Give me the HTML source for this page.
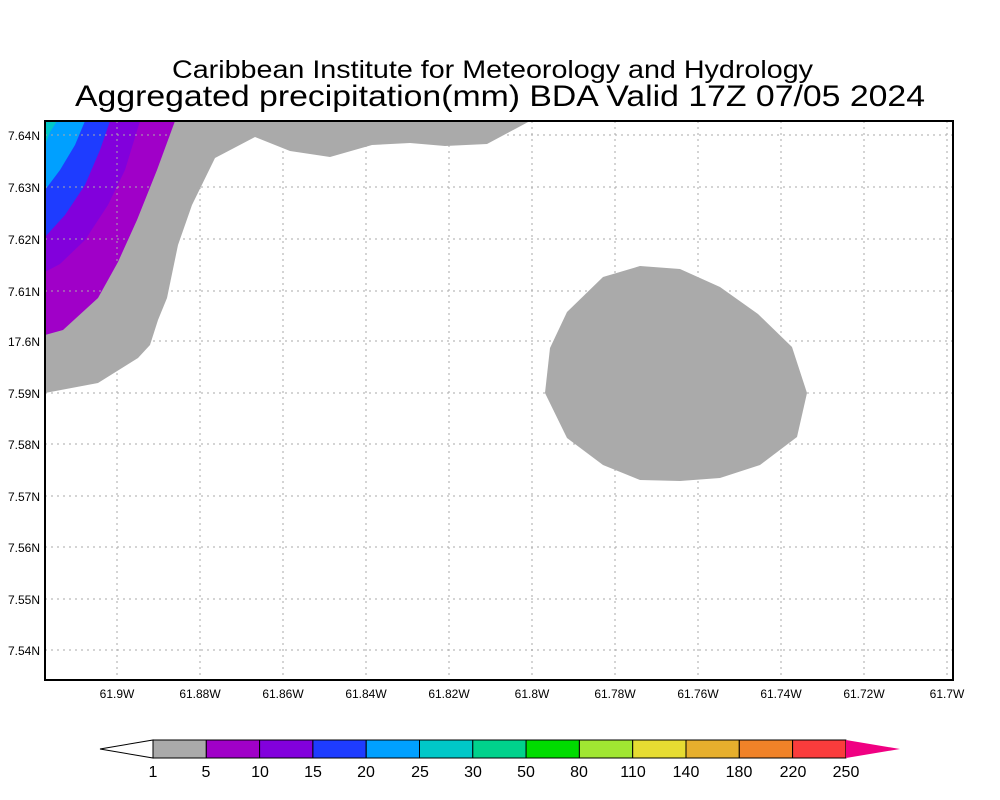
<!DOCTYPE html>
<html><head><meta charset="utf-8"><style>body{margin:0;background:#fff}svg{display:block}text{font-family:"Liberation Sans",sans-serif}</style></head><body>
<svg width="1000" height="800" viewBox="0 0 1000 800">
<rect width="1000" height="800" fill="#fff"/>
<text x="172" y="78" font-size="25" textLength="641" lengthAdjust="spacingAndGlyphs">Caribbean Institute for Meteorology and Hydrology</text>
<text x="75" y="106" font-size="30" textLength="850" lengthAdjust="spacingAndGlyphs">Aggregated precipitation(mm) BDA Valid 17Z 07/05 2024</text>
<clipPath id="c"><rect x="45" y="121" width="908" height="559"/></clipPath>
<g clip-path="url(#c)">
<polygon fill="#aaaaaa" points="45,393 98,383 138,358 150,345 158,320 167,298 178,245 192,205 215,158 255,137 290,151 330,157 372,145 410,143 445,146 487,144 517,128 530,121 45,121"/>
<polygon fill="#a000c8" points="45,335 63,330 98,298 118,262 137,220 157,170 175,121 45,121"/>
<polygon fill="#8200dc" points="45,272 60,264 85,240 108,205 125,170 140,121 45,121"/>
<polygon fill="#1e3cff" points="45,237 65,215 85,185 100,150 110,121 45,121"/>
<polygon fill="#00a0ff" points="45,190 60,170 75,145 85,121 45,121"/>
<polygon fill="#00c8c8" points="45,145 50,132 57,121 45,121"/>
<polygon fill="#aaaaaa" points="545,393 550,348 567,312 603,277 640,266 680,269 720,287 758,314 792,347 807,393 797,437 760,465 720,478 680,481 640,480 603,465 567,438"/>
</g>
<g stroke="#aaa" stroke-width="1" stroke-dasharray="2,4">
<line x1="117" y1="121" x2="117" y2="680"/><line x1="200" y1="121" x2="200" y2="680"/><line x1="283" y1="121" x2="283" y2="680"/><line x1="366" y1="121" x2="366" y2="680"/><line x1="449" y1="121" x2="449" y2="680"/><line x1="532" y1="121" x2="532" y2="680"/><line x1="615" y1="121" x2="615" y2="680"/><line x1="698" y1="121" x2="698" y2="680"/><line x1="781" y1="121" x2="781" y2="680"/><line x1="864" y1="121" x2="864" y2="680"/><line x1="947" y1="121" x2="947" y2="680"/>
<line x1="45" y1="135" x2="953" y2="135"/><line x1="45" y1="187" x2="953" y2="187"/><line x1="45" y1="239" x2="953" y2="239"/><line x1="45" y1="291" x2="953" y2="291"/><line x1="45" y1="341" x2="953" y2="341"/><line x1="45" y1="393" x2="953" y2="393"/><line x1="45" y1="444" x2="953" y2="444"/><line x1="45" y1="496" x2="953" y2="496"/><line x1="45" y1="547" x2="953" y2="547"/><line x1="45" y1="599" x2="953" y2="599"/><line x1="45" y1="650" x2="953" y2="650"/>
</g>
<rect x="45" y="121" width="908" height="559" fill="none" stroke="#000" stroke-width="2"/>
<g font-size="12" text-anchor="end">
<text x="40" y="140">7.64N</text><text x="40" y="192">7.63N</text><text x="40" y="244">7.62N</text><text x="40" y="296">7.61N</text><text x="40" y="346">17.6N</text><text x="40" y="398">7.59N</text><text x="40" y="449">7.58N</text><text x="40" y="501">7.57N</text><text x="40" y="552">7.56N</text><text x="40" y="604">7.55N</text><text x="40" y="655">7.54N</text>
</g>
<g font-size="12" text-anchor="middle">
<text x="117" y="698">61.9W</text><text x="200" y="698">61.88W</text><text x="283" y="698">61.86W</text><text x="366" y="698">61.84W</text><text x="449" y="698">61.82W</text><text x="532" y="698">61.8W</text><text x="615" y="698">61.78W</text><text x="698" y="698">61.76W</text><text x="781" y="698">61.74W</text><text x="864" y="698">61.72W</text><text x="947" y="698">61.7W</text>
</g>
<g stroke="#000" stroke-width="1">
<polygon points="100,749 153,740 153,758" fill="#fff"/>
<rect x="153" y="740" width="53.3" height="18" fill="#aaaaaa"/>
<rect x="206.3" y="740" width="53.3" height="18" fill="#a000c8"/>
<rect x="259.6" y="740" width="53.3" height="18" fill="#8200dc"/>
<rect x="312.9" y="740" width="53.3" height="18" fill="#1e3cff"/>
<rect x="366.2" y="740" width="53.3" height="18" fill="#00a0ff"/>
<rect x="419.5" y="740" width="53.3" height="18" fill="#00c8c8"/>
<rect x="472.8" y="740" width="53.3" height="18" fill="#00d28c"/>
<rect x="526.1" y="740" width="53.3" height="18" fill="#00dc00"/>
<rect x="579.4" y="740" width="53.3" height="18" fill="#a0e632"/>
<rect x="632.7" y="740" width="53.3" height="18" fill="#e6dc32"/>
<rect x="686" y="740" width="53.3" height="18" fill="#e6af2d"/>
<rect x="739.3" y="740" width="53.3" height="18" fill="#f08228"/>
<rect x="792.6" y="740" width="53.3" height="18" fill="#fa3c3c"/>
</g>
<polygon points="846,740 900,749 846,758" fill="#f00082"/>
<g font-size="16" text-anchor="middle">
<text x="153" y="777">1</text><text x="206" y="777">5</text><text x="260" y="777">10</text><text x="313" y="777">15</text><text x="366" y="777">20</text><text x="420" y="777">25</text><text x="473" y="777">30</text><text x="526" y="777">50</text><text x="579" y="777">80</text><text x="633" y="777">110</text><text x="686" y="777">140</text><text x="739" y="777">180</text><text x="793" y="777">220</text><text x="846" y="777">250</text>
</g>
</svg>
</body></html>
